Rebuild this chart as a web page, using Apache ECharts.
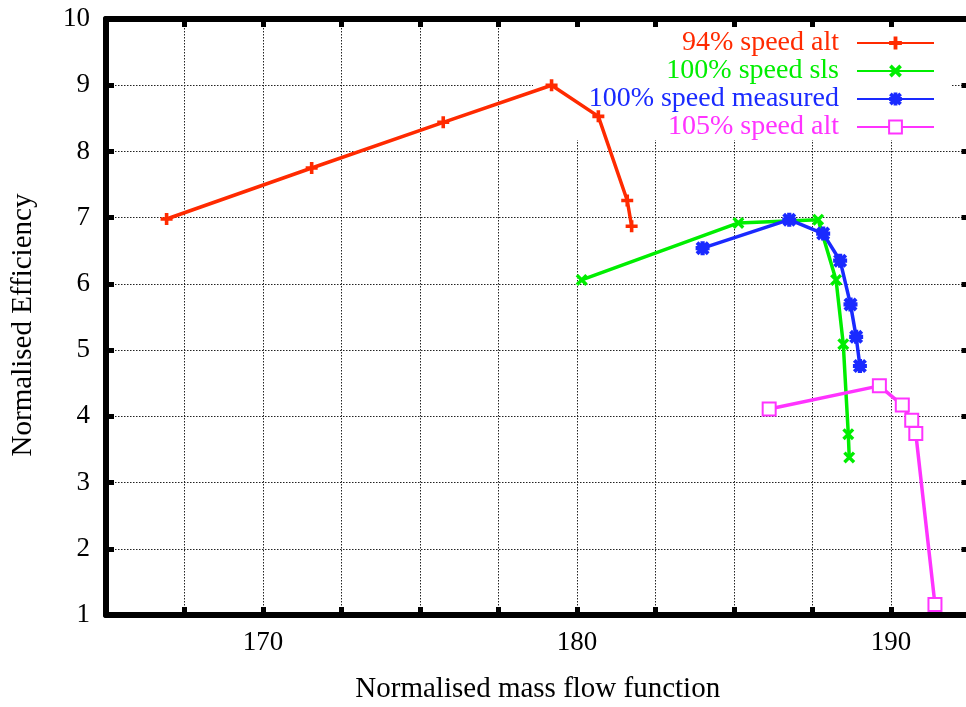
<!DOCTYPE html>
<html>
<head>
<meta charset="utf-8">
<script src="https://cdn.jsdelivr.net/npm/echarts@6/dist/echarts.min.js"></script>
<style>html,body{margin:0;padding:0;background:#fff}#c{width:966px;height:707px}</style>
</head>
<body>
<div id="c"></div>
<script>
// ---- data ----
var seriesNames = ['94% speed alt', '100% speed sls', '100% speed measured', '105% speed alt'];
var alt94X = [166.93, 171.55, 175.74, 179.19, 180.68, 181.60, 181.74];
var alt94Y = [6.98, 7.75, 8.44, 9.00, 8.53, 7.26, 6.87];
var sls100X = [180.15, 185.14, 187.68, 188.25, 188.48, 188.64, 188.67];
var sls100Y = [6.06, 6.92, 6.97, 6.06, 5.09, 3.73, 3.38];
var meas100X = [184.00, 186.76, 187.84, 188.38, 188.71, 188.89, 189.01];
var meas100Y = [6.54, 6.97, 6.76, 6.35, 5.69, 5.20, 4.76];
var alt105X = [186.12, 189.63, 190.36, 190.66, 190.79, 191.40];
var alt105Y = [4.11, 4.46, 4.17, 3.94, 3.74, 1.16];
var xTickLabels = [170, 180, 190];
var yTickLabels = [1, 2, 3, 4, 5, 6, 7, 8, 9, 10];

function pairs(xs, ys) { return xs.map(function (x, i) { return [x, ys[i]]; }); }

var FONT = 'Liberation Serif';
var FS = 27;
var colors = ['#ff2a00', '#00ee00', '#1a2aff', '#ff33ff'];
var symPlus = 'path://M3.5,0H6.5V3.5H10V6.5H6.5V10H3.5V6.5H0V3.5H3.5Z';
var symCross = 'path://M0,2L2,0L10,8L8,10Z M8,0L10,2L2,10L0,8Z';
var symStar = 'path://M3.5,0H6.5V3.5H10V6.5H6.5V10H3.5V6.5H0V3.5H3.5Z M0,2L2,0L10,8L8,10Z M8,0L10,2L2,10L0,8Z';

var gridLine = { show: true, lineStyle: { color: '#222', width: 1, type: [1.5, 1.5] } };
var frameLine = { show: true, lineStyle: { color: '#000', width: 6 } };
var frameTick = { show: true, inside: true, length: 8, lineStyle: { color: '#000', width: 5 } };

var rowY = [43, 71, 99, 127];
var legends = seriesNames.map(function (n, i) {
  return {
    data: [n], orient: 'vertical', right: 31, top: rowY[i] - 14, align: 'right',
    itemWidth: 77, itemHeight: 16, padding: 0, selectedMode: false,
    textStyle: { color: colors[i], fontSize: 28, fontFamily: FONT, lineHeight: 28, padding: [0, 13, 0, 0] }
  };
});

function mkSeries(i, xs, ys, symbol, size, extraItem) {
  var it = { color: colors[i], borderWidth: 0 };
  if (extraItem) for (var k in extraItem) it[k] = extraItem[k];
  return {
    name: seriesNames[i], type: 'line', data: pairs(xs, ys),
    symbol: symbol, symbolSize: size, showAllSymbol: true,
    lineStyle: { color: colors[i], width: 3.5 },
    itemStyle: it, z: 3, animation: false
  };
}

var chart = echarts.init(document.getElementById('c'), null, { renderer: 'canvas' });
chart.setOption({
  backgroundColor: '#fff',
  animation: false,
  legend: legends,
  grid: { left: 106, width: 863.5, top: 19, bottom: 92, containLabel: false, outerBoundsMode: 'none' },
  xAxis: [{
    type: 'value', position: 'bottom', min: 165, max: 192.5, interval: 2.5,
    axisLine: frameLine, axisTick: frameTick, splitLine: gridLine,
    axisLabel: {
      fontSize: FS, fontFamily: FONT, color: '#000', margin: 14,
      formatter: function (v) { return xTickLabels.indexOf(v) >= 0 ? String(v) : ''; }
    },
    name: 'Normalised mass flow function', nameLocation: 'middle', nameGap: 60,
    nameTextStyle: { fontSize: 29, fontFamily: FONT, color: '#000' }
  }, {
    type: 'value', position: 'top', min: 165, max: 192.5, interval: 2.5,
    axisLine: frameLine, axisTick: frameTick, splitLine: { show: false }, axisLabel: { show: false }
  }],
  yAxis: [{
    type: 'value', position: 'left', min: 1, max: 10, interval: 1,
    axisLine: frameLine, axisTick: frameTick, splitLine: gridLine,
    axisLabel: {
      fontSize: FS, fontFamily: FONT, color: '#000', margin: 16,
      formatter: function (v) { return yTickLabels.indexOf(v) >= 0 ? String(v) : ''; }
    },
    name: 'Normalised Efficiency', nameLocation: 'middle', nameGap: 68,
    nameTextStyle: { fontSize: 29, fontFamily: FONT, color: '#000', padding: [0, 16, 0, 0] }
  }, {
    type: 'value', position: 'right', min: 1, max: 10, interval: 1,
    axisLine: frameLine, axisTick: frameTick, splitLine: { show: false }, axisLabel: { show: false }
  }],
  graphic: [{
    type: 'rect', z: 1, silent: true,
    shape: { x: 533, y: 28, width: 418, height: 112 },
    style: { fill: '#fff' }
  }],
  series: [
    mkSeries(0, alt94X, alt94Y, symPlus, 12),
    mkSeries(1, sls100X, sls100Y, symCross, 12),
    mkSeries(2, meas100X, meas100Y, symStar, 14),
    mkSeries(3, alt105X, alt105Y, 'emptyRect', 13, { borderWidth: 2.5, borderColor: colors[3] })
  ]
});
</script>
</body>
</html>
